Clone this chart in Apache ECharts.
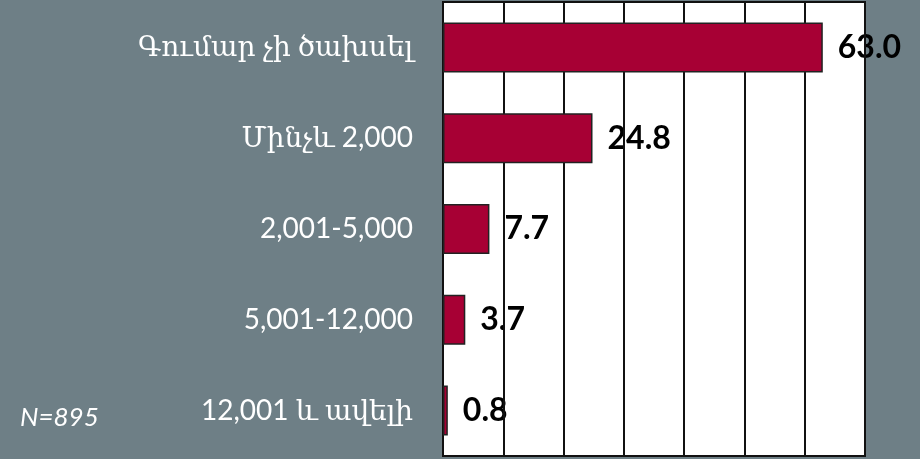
<!DOCTYPE html>
<html>
<head>
<meta charset="utf-8">
<script src="https://cdn.jsdelivr.net/npm/echarts@6/dist/echarts.min.js"></script>
<style>
html,body{margin:0;padding:0;background:#6E7F86;}
#chart{width:920px;height:459px;}
</style>
</head>
<body>
<div id="chart"></div>
<script>
var categories = ["Գումար չի ծախսել", "Մինչև 2,000", "2,001-5,000", "5,001-12,000", "12,001 և ավելի"];
var values = [63.0, 24.8, 7.7, 3.7, 0.8];
var note = "N=895";
var axisMax = 70;
var axisInterval = 10;

var chart = echarts.init(document.getElementById('chart'));
var catFont = "Lato, 'DejaVu Serif', 'DejaVu Sans', sans-serif";
chart.setOption({
  backgroundColor: '#6E7F86',
  animation: false,
  grid: {
    left: 443, right: 55, top: 2, bottom: 3,
    show: true, backgroundColor: '#ffffff', borderColor: '#111', borderWidth: 2, z: 0
  },
  graphic: [{
    type: 'text', left: 20, top: 405, z: 10,
    style: { text: note, fill: '#ffffff', font: "italic 26px Lato, 'DejaVu Sans', sans-serif" }
  }],
  xAxis: {
    type: 'value', min: 0, max: axisMax, interval: axisInterval, z: 2,
    axisLabel: { show: false }, axisTick: { show: false },
    axisLine: { show: true, lineStyle: { color: '#111', width: 2 } },
    splitLine: { show: true, lineStyle: { color: '#111', width: 2 } }
  },
  yAxis: {
    type: 'category', data: categories, inverse: true, z: 2,
    axisTick: { show: false },
    axisLine: { show: true, lineStyle: { color: '#111', width: 2 } },
    axisLabel: { color: '#ffffff', fontSize: 28, fontFamily: catFont, margin: 30 }
  },
  series: [
    {
      type: 'bar', data: values, barWidth: 50, z: 3,
      itemStyle: { color: '#A70034', borderColor: '#222', borderWidth: 1.5 }
    },
    {
      type: 'bar', data: values, barWidth: 50, barGap: '-100%', z: 1,
      itemStyle: { color: 'rgba(0,0,0,0)' }, silent: true,
      label: {
        show: true, position: 'right', distance: 15,
        formatter: function (p) { return p.value.toFixed(1); },
        color: '#000', fontWeight: 'bold', fontSize: 32, fontFamily: 'Lato, sans-serif'
      }
    }
  ]
});
</script>
</body>
</html>
